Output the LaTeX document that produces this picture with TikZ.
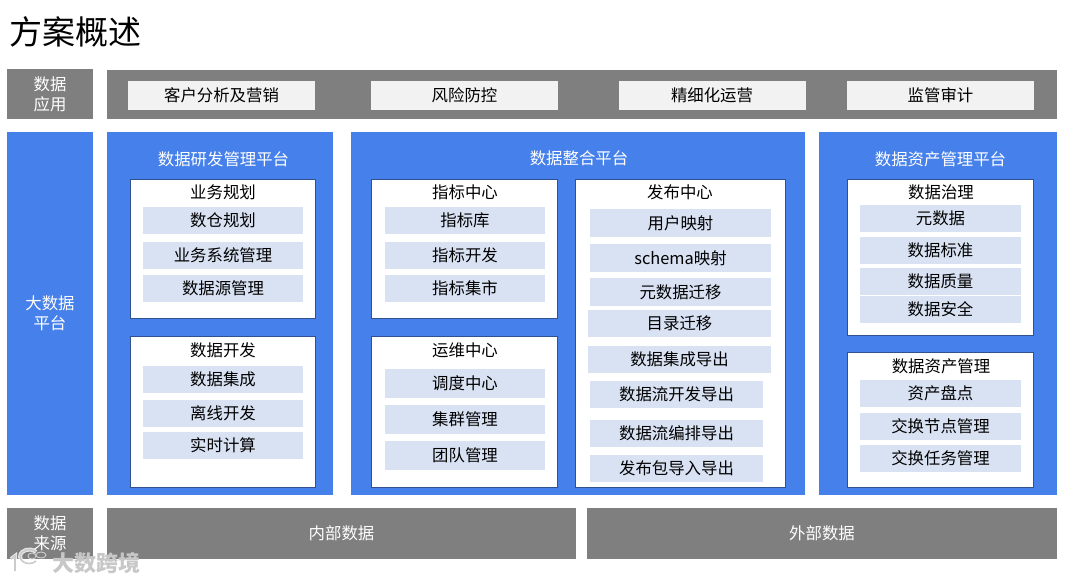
\documentclass[tikz,border=0pt]{standalone}
\usepackage{fontspec}
\setmainfont{Noto Sans CJK SC}
\definecolor{bandgray}{HTML}{7F7F7F}
\definecolor{panelblue}{HTML}{4680EA}
\definecolor{edgeblue}{HTML}{2F528F}
\definecolor{itemblue}{HTML}{D9E2F3}
\definecolor{itemgray}{HTML}{F2F2F2}
\tikzset{
    band/.style={fill=bandgray, text=white, inner sep=0pt, font=\fontsize{16.4}{20}\selectfont, align=center},
    panel/.style={fill=panelblue, text=white, inner sep=0pt, font=\fontsize{16.4}{20}\selectfont, align=center},
    paneltitle/.style={text=white, inner sep=0pt, font=\fontsize{16.4}{20}\selectfont},
    whitebox/.style={draw=edgeblue, line width=0.7pt, fill=white, inner sep=0pt},
    boxtitle/.style={text=black, inner sep=0pt, font=\fontsize{16.4}{20}\selectfont},
    topitem/.style={fill=itemgray, text=black, inner sep=0pt, minimum width=187, minimum height=29, font=\fontsize{16.4}{20}\selectfont},
    subitem/.style={fill=itemblue, text=black, inner sep=0pt, minimum width=160, minimum height=27, font=\fontsize{16.4}{20}\selectfont},
}
\begin{document}
\begin{tikzpicture}[x=1pt, y=-1pt]
    \useasboundingbox (0,0) rectangle (1080,583);
    \node[inner sep=0pt, font=\fontsize{33}{38}\selectfont] (title) at (75.5,32) {方案概述};

    % Data applications
    \node[band, minimum width=86, minimum height=50] (applabel) at (50,94) {数据\\应用};
    \node[band, minimum width=950, minimum height=49] (appband) at (582,94.5) {};
    \node[topitem] (app1) at (221.5,95.5) {客户分析及营销};
    \node[topitem] (app2) at (464.5,95.5) {风险防控};
    \node[topitem] (app3) at (712,95.5) {精细化运营};
    \node[topitem] (app4) at (940.5,95.5) {监管审计};

    % Big data platform
    \node[panel, minimum width=86, minimum height=363] (platlabel) at (50,313.5) {大数据\\平台};
    \node[panel, minimum width=226, minimum height=363] (devpanel) at (220,313.5) {};
    \node[panel, minimum width=454, minimum height=363] (intpanel) at (578.4,313.5) {};
    \node[panel, minimum width=237.6, minimum height=363] (assetpanel) at (938.2,313.5) {};
    \node[paneltitle] (devtitle) at (223.5,159) {数据研发管理平台};
    \node[paneltitle] (inttitle) at (579,158) {数据整合平台};
    \node[paneltitle] (assettitle) at (940.5,159) {数据资产管理平台};

    % Research and development platform
    \node[whitebox, minimum width=185.4, minimum height=139] (planbox) at (222.6,248.5) {};
    \node[boxtitle] (plantitle) at (223,192) {业务规划};
    \node[subitem] (plan1) at (223,220.5) {数仓规划};
    \node[subitem] (plan2) at (223,255) {业务系统管理};
    \node[subitem] (plan3) at (223,288) {数据源管理};
    \node[whitebox, minimum width=185.4, minimum height=151] (buildbox) at (222.6,411.5) {};
    \node[boxtitle] (buildtitle) at (223,350) {数据开发};
    \node[subitem] (build1) at (223,379.5) {数据集成};
    \node[subitem] (build2) at (223,413) {离线开发};
    \node[subitem] (build3) at (223,445.5) {实时计算};

    % Integration platform
    \node[whitebox, minimum width=185.4, minimum height=139] (metricbox) at (464.4,248.5) {};
    \node[boxtitle] (metrictitle) at (465,192) {指标中心};
    \node[subitem] (metric1) at (465,220.5) {指标库};
    \node[subitem] (metric2) at (465,255) {指标开发};
    \node[subitem] (metric3) at (465,288) {指标集市};
    \node[whitebox, minimum width=185.4, minimum height=151] (opsbox) at (464.4,411.5) {};
    \node[boxtitle] (opstitle) at (465,350) {运维中心};
    \node[subitem, minimum height=29] (ops1) at (465,383.5) {调度中心};
    \node[subitem, minimum height=29] (ops2) at (465,419.5) {集群管理};
    \node[subitem, minimum height=29] (ops3) at (465,455.5) {团队管理};
    \node[whitebox, minimum width=210, minimum height=308] (pubbox) at (680,333) {};
    \node[boxtitle] (pubtitle) at (680,192) {发布中心};
    \node[subitem, minimum width=181, minimum height=28] (pub1) at (680.5,223) {用户映射};
    \node[subitem, minimum width=181, minimum height=28] (pub2) at (680.5,258) {schema映射};
    \node[subitem, minimum width=181, minimum height=28] (pub3) at (680.5,292) {元数据迁移};
    \node[subitem, minimum width=183] (pub4) at (679.5,323.5) {目录迁移};
    \node[subitem, minimum width=183] (pub5) at (679.5,359.5) {数据集成导出};
    \node[subitem, minimum width=173] (pub6) at (676.5,394.5) {数据流开发导出};
    \node[subitem, minimum width=173] (pub7) at (676.5,433) {数据流编排导出};
    \node[subitem, minimum width=173] (pub8) at (676.5,468.5) {发布包导入导出};

    % Asset management platform
    \node[whitebox, minimum width=186, minimum height=156] (govbox) at (940,257) {};
    \node[boxtitle] (govtitle) at (941,192) {数据治理};
    \node[subitem, minimum width=161] (gov1) at (940.5,218.5) {元数据};
    \node[subitem, minimum width=161] (gov2) at (940.5,250.5) {数据标准};
    \node[subitem, minimum width=161] (gov3) at (940.5,281) {数据质量};
    \node[subitem, minimum width=161] (gov4) at (940.5,309) {数据安全};
    \node[whitebox, minimum width=186, minimum height=135] (assetbox) at (940,419.5) {};
    \node[boxtitle] (assetboxtitle) at (941,366) {数据资产管理};
    \node[subitem, minimum width=161] (asset1) at (940.5,393) {资产盘点};
    \node[subitem, minimum width=161] (asset2) at (940.5,426) {交换节点管理};
    \node[subitem, minimum width=161] (asset3) at (940.5,458.5) {交换任务管理};

    % Data sources
    \node[band, minimum width=86, minimum height=51] (srclabel) at (50,533.5) {数据\\来源};
    \node[band, minimum width=469, minimum height=51] (inner) at (341.5,533.5) {内部数据};
    \node[band, minimum width=470, minimum height=51] (outer) at (822,533.5) {外部数据};

    % Watermark
    \draw[white, line width=4pt, opacity=0.8] (11,559) -- (15,556) -- (15,571);
    \draw[white, line width=4pt, opacity=0.8] (36,561) arc (40:320:9 and 7);
    \draw[black!20, line width=1.6pt] (11,559) -- (15,556) -- (15,571);
    \draw[black!20, line width=1.6pt] (36,561) arc (40:320:9 and 7);
    \draw[black!20, line width=0.9pt] (32,556) circle (4 and 3) (41,555) circle (5 and 3);
    \node[text=black!22, inner sep=0pt, font=\fontsize{22}{26}\selectfont\bfseries] (mark) at (96.5,563) {大数跨境};
\end{tikzpicture}
\end{document}
